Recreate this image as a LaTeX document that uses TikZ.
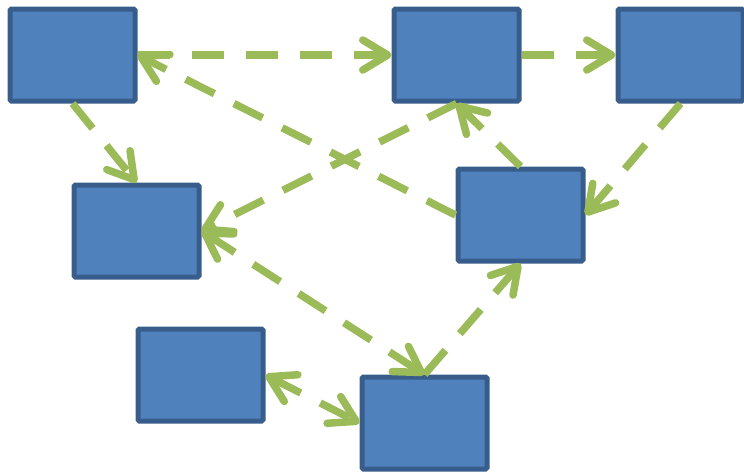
\documentclass[tikz,border=0pt]{standalone}
\usetikzlibrary{arrows.meta}
\definecolor{boxfill}{HTML}{4F81BD}
\definecolor{boxline}{HTML}{385D8A}
\definecolor{linkgreen}{HTML}{9BBB59}
\begin{document}
\begin{tikzpicture}[x=1pt,y=-1pt,
  box/.style={draw=boxline, fill=boxfill, line width=5pt,
    minimum width=125pt, minimum height=92pt,
    rounded corners=1.5pt, inner sep=0pt},
  link/.style={draw=linkgreen, line width=7.5pt, dash pattern=on 32pt off 22pt},
  chev/.tip={Straight Barb[length=25pt, width=30pt, round]}]
  \useasboundingbox (0,0) rectangle (744,475);

  % boxes
  \node[box] (A) at (72.5,55) {};
  \node[box] (B) at (456.5,55) {};
  \node[box] (C) at (680.5,55) {};
  \node[box] (D) at (136.5,231) {};
  \node[box] (E) at (520.5,215) {};
  \node[box] (F) at (200.5,375) {};
  \node[box] (G) at (424.5,423) {};

  % dashed connectors
  \draw[link,-chev] (A.east) -- (B.west);
  \draw[link,-chev] (B.east) -- (C.west);
  \draw[link,-chev] (C.south) -- (E.east);
  \draw[link,-chev] (A.south) -- (D.north);
  \draw[link,-chev] (E.west) -- (A.east);
  \draw[link,-chev] (B.south) -- (D.east);
  \draw[link,-chev] (E.north) -- (B.south);
  \draw[link,chev-chev] (D.east) -- (G.north);
  \draw[link,-chev] (G.north) -- (E.south);
  \draw[link,chev-chev] (F.east) -- (G.west);
\end{tikzpicture}
\end{document}
